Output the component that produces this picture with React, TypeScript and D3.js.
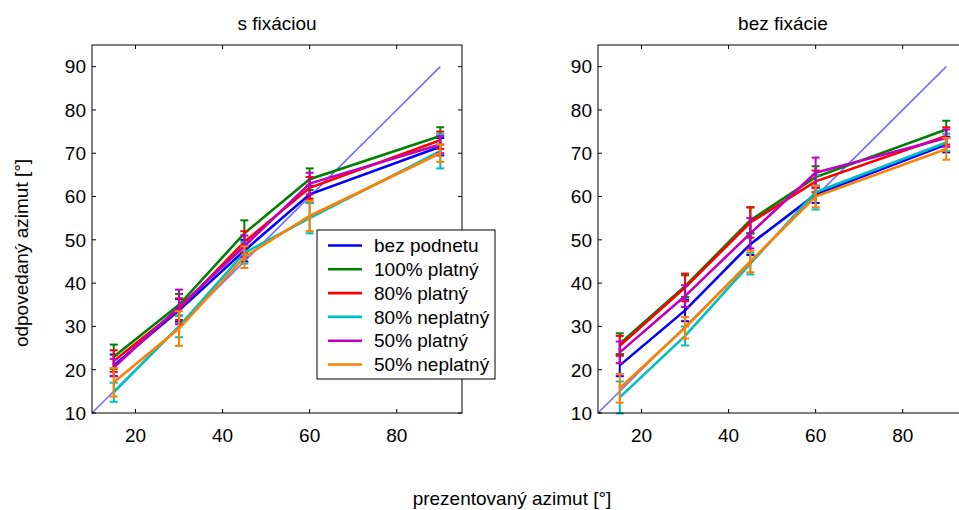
import React from "react";
import * as d3 from "d3";

const xValues = [15, 30, 45, 60, 90];
const seriesNames = ["bez podnetu", "100% platný", "80% platný", "80% neplatný", "50% platný", "50% neplatný"];
const seriesColors = ["#0000ff", "#008000", "#ff0000", "#00bfbf", "#bf00bf", "#ff8000"];

// s fixáciou
const leftBez = [21, 33.7, 47.5, 60.5, 71.5];
const leftBezErr = [2.5, 2.6, 2.5, 2, 2];
const left100 = [23, 35, 51.5, 64, 74];
const left100Err = [2.8, 2.5, 3, 2.5, 2];
const left80p = [22, 34, 49.5, 62, 73];
const left80pErr = [2.5, 2.5, 2.5, 2.5, 2];
const left80n = [14.8, 30, 47, 55, 70.5];
const left80nErr = [2.2, 2.5, 2.5, 3.5, 4];
const left50p = [20.5, 34.5, 48.5, 63, 72];
const left50pErr = [2, 4, 2.5, 2.5, 2];
const left50n = [17.1, 29.5, 46, 55.5, 70];
const left50nErr = [3.3, 4, 2.5, 3.5, 2];

// bez fixácie
const rightBez = [21, 33.7, 49, 60.5, 72];
const rightBezErr = [2.5, 2.5, 2.5, 2, 1.8];
const right100 = [26, 39.3, 54.5, 64.5, 75.5];
const right100Err = [2.4, 2.5, 3, 2.5, 2];
const right80p = [25.5, 39, 54, 63.5, 74];
const right80pErr = [2.3, 3.2, 3.5, 2.5, 2];
const right80n = [13.6, 27.8, 44.5, 61, 72.5];
const right80nErr = [3.7, 2.2, 2.5, 4, 2];
const right50p = [24, 37, 51.5, 65.5, 73.5];
const right50pErr = [2.5, 2.5, 3.5, 3.5, 2];
const right50n = [15.7, 29.7, 45, 60, 71];
const right50nErr = [3.3, 2.5, 2.5, 2.5, 2.5];

const xTicks = [20, 40, 60, 80];
const yTicks = [10, 20, 30, 40, 50, 60, 70, 80, 90];
const domain: [number, number] = [10, 95];
const diagonal = [10, 90];

const panels = [
  {
    title: "s fixáciou",
    x0: 92,
    values: [leftBez, left100, left80p, left80n, left50p, left50n],
    errs: [leftBezErr, left100Err, left80pErr, left80nErr, left50pErr, left50nErr],
    legend: true,
  },
  {
    title: "bez fixácie",
    x0: 598,
    values: [rightBez, right100, right80p, right80n, right50p, right50n],
    errs: [rightBezErr, right100Err, right80pErr, right80nErr, right50pErr, right50nErr],
    legend: false,
  },
];

const W = 370;
const TOP = 45;
const BOTTOM = 413;
const FONT = "'Liberation Sans', Arial, sans-serif";
const FS = 19;

function Panel({ p }: { p: (typeof panels)[number] }) {
  const x = d3.scaleLinear().domain(domain).range([p.x0, p.x0 + W]);
  const y = d3.scaleLinear().domain(domain).range([BOTTOM, TOP]);
  const line = d3
    .line<number>()
    .x((_, i) => x(xValues[i]))
    .y((d) => y(d));
  const cap = 4;
  return (
    <g>
      <text x={p.x0 + W / 2} y={30} textAnchor="middle" fontSize={FS} fontFamily={FONT}>
        {p.title}
      </text>
      <line
        x1={x(diagonal[0])}
        y1={y(diagonal[0])}
        x2={x(diagonal[1])}
        y2={y(diagonal[1])}
        stroke="#6f6fff"
        strokeWidth={1.6}
      />
      {p.values.map((vals, si) => (
        <g key={si}>
          <path d={line(vals) || ""} fill="none" stroke={seriesColors[si]} strokeWidth={2.6} />
          {vals.map((v, i) => {
            const e = p.errs[si][i];
            const cx = x(xValues[i]);
            return (
              <g key={i} stroke={seriesColors[si]} strokeWidth={2}>
                <line x1={cx} x2={cx} y1={y(v - e)} y2={y(v + e)} />
                <line x1={cx - cap} x2={cx + cap} y1={y(v - e)} y2={y(v - e)} />
                <line x1={cx - cap} x2={cx + cap} y1={y(v + e)} y2={y(v + e)} />
              </g>
            );
          })}
        </g>
      ))}
      <rect x={p.x0} y={TOP} width={W} height={BOTTOM - TOP} fill="none" stroke="#000" strokeWidth={1} />
      {xTicks.map((t) => (
        <g key={"x" + t}>
          <line x1={x(t)} x2={x(t)} y1={BOTTOM} y2={BOTTOM - 4} stroke="#000" />
          <line x1={x(t)} x2={x(t)} y1={TOP} y2={TOP + 4} stroke="#000" />
          <text x={x(t)} y={BOTTOM + 29} textAnchor="middle" fontSize={FS} fontFamily={FONT}>
            {t}
          </text>
        </g>
      ))}
      {yTicks.map((t) => (
        <g key={"y" + t}>
          <line x1={p.x0} x2={p.x0 + 4} y1={y(t)} y2={y(t)} stroke="#000" />
          <line x1={p.x0 + W} x2={p.x0 + W - 4} y1={y(t)} y2={y(t)} stroke="#000" />
          <text x={p.x0 - 6} y={y(t) + 6.8} textAnchor="end" fontSize={FS} fontFamily={FONT}>
            {t}
          </text>
        </g>
      ))}
      {p.legend && (
        <g>
          <rect x={317} y={230} width={178} height={149} fill="#fff" stroke="#000" strokeWidth={1} />
          {seriesNames.map((n, i) => {
            const ly = 245.5 + i * 23.8;
            return (
              <g key={n}>
                <line x1={328} x2={362} y1={ly} y2={ly} stroke={seriesColors[i]} strokeWidth={2.6} />
                <text x={374} y={ly + 6.7} fontSize={FS} fontFamily={FONT}>
                  {n}
                </text>
              </g>
            );
          })}
        </g>
      )}
    </g>
  );
}

export default function App() {
  return (
    <svg width={959} height={510} style={{ position: "absolute", left: 0, top: 0, background: "#fff" }}>
      <rect x={0} y={0} width={959} height={510} fill="#fff" />
      {panels.map((p) => (
        <Panel key={p.title} p={p} />
      ))}
      <text transform="translate(28,253) rotate(-90)" textAnchor="middle" fontSize={FS} fontFamily={FONT}>
        odpovedaný azimut [°]
      </text>
      <text x={512} y={505} textAnchor="middle" fontSize={FS} fontFamily={FONT}>
        prezentovaný azimut [°]
      </text>
    </svg>
  );
}
